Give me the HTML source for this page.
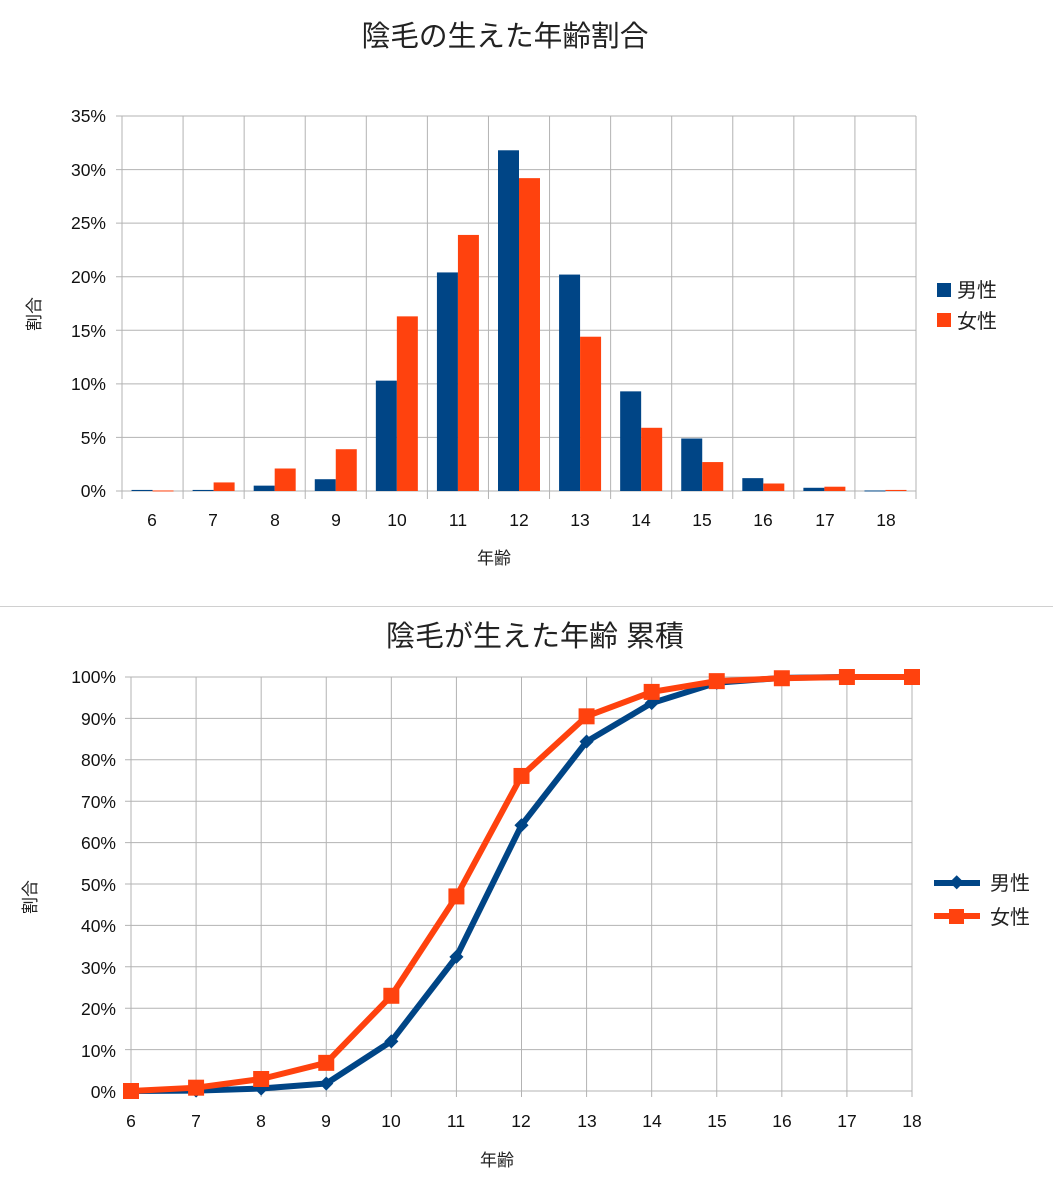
<!DOCTYPE html>
<html><head><meta charset="utf-8"><style>
body{margin:0;background:#fff}
svg{display:block;font-family:"Liberation Sans","Noto Sans CJK JP",sans-serif}
</style></head><body>
<svg id="s" width="1053" height="1194" xmlns="http://www.w3.org/2000/svg">
<rect width="1053" height="1194" fill="#fff"/>
<g id="g1" stroke="#b3b3b3" stroke-width="1" fill="none"></g>
<g id="bars"></g>
<g id="g2" stroke="#b3b3b3" stroke-width="1" fill="none"></g>
<g id="lines"></g>
<line x1="0" y1="606.5" x2="1053" y2="606.5" stroke="#d0d0d0"/>
<text x="505" y="46" font-size="28.7" text-anchor="middle" fill="#222">陰毛の生えた年齢割合</text>
<g font-size="17.5" fill="#111" text-anchor="end">
<text x="106" y="122">35%</text><text x="106" y="176">30%</text><text x="106" y="229">25%</text><text x="106" y="283">20%</text><text x="106" y="337">15%</text><text x="106" y="390">10%</text><text x="106" y="444">5%</text><text x="106" y="497">0%</text>
</g>
<g font-size="17.5" fill="#111" text-anchor="middle">
<text x="152" y="526">6</text><text x="213" y="526">7</text><text x="275" y="526">8</text><text x="336" y="526">9</text><text x="397" y="526">10</text><text x="458" y="526">11</text><text x="519" y="526">12</text><text x="580" y="526">13</text><text x="641" y="526">14</text><text x="702" y="526">15</text><text x="763" y="526">16</text><text x="825" y="526">17</text><text x="886" y="526">18</text>
</g>
<text x="494" y="564" font-size="17" text-anchor="middle" fill="#222">年齢</text>
<text transform="translate(40,314) rotate(-90)" font-size="17" text-anchor="middle" fill="#222">割合</text>
<rect x="937" y="283" width="14" height="14" fill="#004586"/>
<text x="957" y="297" font-size="20" fill="#222">男性</text>
<rect x="937" y="313" width="14" height="14" fill="#ff420e"/>
<text x="957" y="328" font-size="20" fill="#222">女性</text>

<text x="535" y="646" font-size="29" text-anchor="middle" fill="#222">陰毛が生えた年齢 累積</text>
<g font-size="17.5" fill="#111" text-anchor="end" id="yl2">
<text x="116" y="683">100%</text><text x="116" y="725">90%</text><text x="116" y="766">80%</text><text x="116" y="808">70%</text><text x="116" y="849">60%</text><text x="116" y="891">50%</text><text x="116" y="932">40%</text><text x="116" y="974">30%</text><text x="116" y="1015">20%</text><text x="116" y="1057">10%</text><text x="116" y="1098">0%</text>
</g>
<g font-size="17.5" fill="#111" text-anchor="middle">
<text x="131" y="1127">6</text><text x="196" y="1127">7</text><text x="261" y="1127">8</text><text x="326" y="1127">9</text><text x="391" y="1127">10</text><text x="456" y="1127">11</text><text x="521" y="1127">12</text><text x="587" y="1127">13</text><text x="652" y="1127">14</text><text x="717" y="1127">15</text><text x="782" y="1127">16</text><text x="847" y="1127">17</text><text x="912" y="1127">18</text>
</g>
<text x="497" y="1166" font-size="17" text-anchor="middle" fill="#222">年齢</text>
<text transform="translate(36,897) rotate(-90)" font-size="17" text-anchor="middle" fill="#222">割合</text>
<line x1="934" y1="883" x2="980" y2="883" stroke="#004586" stroke-width="6"/>
<rect x="951" y="877" width="10" height="10" fill="#004586" transform="rotate(45 956 883)"/>
<text x="990" y="890" font-size="20" fill="#222">男性</text>
<line x1="934" y1="916" x2="980" y2="916" stroke="#ff420e" stroke-width="6"/>
<rect x="949" y="909" width="15" height="15" fill="#ff420e"/>
<text x="990" y="924" font-size="20" fill="#222">女性</text>
</svg>
<script>
var NS="http://www.w3.org/2000/svg";
function el(p,t,a){var e=document.createElementNS(NS,t);for(var k in a)e.setAttribute(k,a[k]);p.appendChild(e);return e;}
var g1=document.getElementById('g1'),bars=document.getElementById('bars');
var L=122,R=916,T=116,B=491,cw=(R-L)/13;
for(var i=0;i<=7;i++){var y=B-i*(B-T)/7;el(g1,'line',{x1:L-6,y1:y,x2:R,y2:y});}
for(var i=0;i<=13;i++){var x=L+i*cw;el(g1,'line',{x1:x,y1:T,x2:x,y2:B+8});}
var m=[0.1,0.1,0.5,1.1,10.3,20.4,31.8,20.2,9.3,4.9,1.2,0.3,0.05];
var f=[0.05,0.8,2.1,3.9,16.3,23.9,29.2,14.4,5.9,2.7,0.7,0.4,0.1];
var k=(B-T)/35;
for(var i=0;i<13;i++){var c=L+(i+0.5)*cw;
el(bars,'rect',{x:c-21,y:B-m[i]*k,width:21,height:Math.max(m[i]*k,1),fill:'#004586'});
el(bars,'rect',{x:c,y:B-f[i]*k,width:21,height:Math.max(f[i]*k,1),fill:'#ff420e'});}
var g2=document.getElementById('g2'),ln=document.getElementById('lines');
var L2=131,R2=912,T2=677,B2=1091,sw=(R2-L2)/12;
for(var i=0;i<=10;i++){var y=B2-i*(B2-T2)/10;el(g2,'line',{x1:L2-6,y1:y,x2:R2,y2:y});}
for(var i=0;i<=12;i++){var x=L2+i*sw;el(g2,'line',{x1:x,y1:T2,x2:x,y2:B2+6});}
var cm=[0,0.1,0.6,1.8,12,32.4,64.2,84.4,93.7,98.6,99.8,100,100];
var cf=[0,0.8,2.9,6.8,23,47,76.1,90.5,96.4,99,99.7,100,100];
var kk=(B2-T2)/100;
function pts(a){return a.map(function(v,i){return (L2+i*sw)+','+(B2-v*kk)}).join(' ');}
el(ln,'polyline',{points:pts(cm),fill:'none',stroke:'#004586','stroke-width':6,'stroke-linejoin':'round'});
cm.forEach(function(v,i){var x=L2+i*sw,y=B2-v*kk;el(ln,'rect',{x:x-5,y:y-5,width:10,height:10,fill:'#004586',transform:'rotate(45 '+x+' '+y+')'});});
el(ln,'polyline',{points:pts(cf),fill:'none',stroke:'#ff420e','stroke-width':6,'stroke-linejoin':'round'});
cf.forEach(function(v,i){var x=L2+i*sw,y=B2-v*kk;el(ln,'rect',{x:x-8,y:y-8,width:16,height:16,fill:'#ff420e'});});
</script>
</body></html>
